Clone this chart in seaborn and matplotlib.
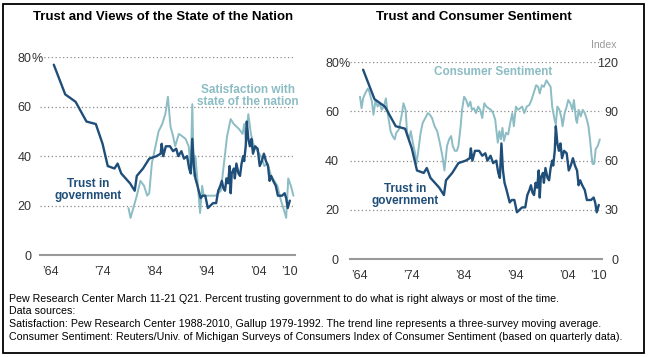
import numpy as np
import pandas as pd
import matplotlib
matplotlib.use("Agg")
import matplotlib.pyplot as plt
import matplotlib.transforms as mtransforms
from matplotlib.patches import Rectangle
import seaborn as sns

sns.set_style("white")
plt.rcParams['font.family'] = ['Liberation Sans', 'DejaVu Sans']

# data
trust_year = [1964.6, 1966.8, 1968.8, 1970.9, 1972.7, 1974.0, 1975.0, 1976.3, 1976.9, 1977.6,
              1979.3, 1980.2, 1980.6, 1981.8, 1983.0, 1984.4, 1985.2, 1985.4, 1985.7, 1986.2,
              1987.0, 1987.6, 1988.2, 1988.6, 1989.2, 1989.7, 1990.3, 1990.7, 1991.0, 1991.3,
              1991.6, 1991.9, 1992.3, 1992.9, 1993.3, 1993.8, 1994.3, 1994.8, 1995.3, 1995.9,
              1996.3, 1996.7, 1997.0, 1997.3, 1997.6, 1997.9, 1998.2, 1998.5, 1998.7, 1998.9,
              1999.3, 1999.5, 1999.8, 2000.2, 2000.5, 2000.8, 2001.1, 2001.3, 2001.6, 2001.8,
              2002.1, 2002.4, 2002.7, 2003.0, 2003.4, 2003.9, 2004.3, 2004.7, 2005.1, 2005.5,
              2005.9, 2006.2, 2006.5, 2006.9, 2007.4, 2007.8, 2008.6, 2009.1, 2009.4, 2009.7,
              2010.1]
trust_pct = [77, 65, 62, 54, 53, 45, 36, 35, 37, 33,
             29, 26, 32, 35, 39, 40, 41, 45, 40, 44,
             44, 42, 43, 40, 42, 39, 40, 35, 33, 47,
             36, 31, 28, 23, 24, 24, 19, 20, 21, 21,
             26, 28, 30, 27, 26, 31, 29, 36, 25, 33,
             35, 31, 37, 33, 32, 37, 40, 38, 44, 54,
             47, 44, 47, 41, 44, 43, 36, 38, 41, 38,
             36, 30, 32, 30, 28, 24, 24, 25, 23, 19,
             22]

sat_year = [1979.0, 1979.4, 1980.6, 1981.3, 1982.0, 1982.6, 1983.0, 1983.5, 1984.2, 1984.8,
            1985.5, 1986.1, 1986.6, 1987.1, 1987.6, 1988.0, 1988.7, 1989.4, 1990.0, 1990.6,
            1991.0, 1991.3, 1991.6, 1991.9, 1992.3, 1992.8, 1993.2, 1993.5, 1994.2, 1994.8,
            1995.8, 1996.8, 1997.4, 1998.0, 1998.7, 1999.3, 2000.3, 2001.0, 2001.3, 2001.6,
            2002.1, 2002.6, 2003.2, 2003.9, 2004.5, 2005.2, 2005.8, 2006.5, 2007.1, 2007.7,
            2008.4, 2009.0, 2009.4, 2009.8, 2010.3, 2010.8]
sat_pct = [19, 15, 24, 30, 28, 24, 25, 37, 44, 50,
           53, 57, 64, 52, 48, 44, 49, 48, 47, 44,
           35, 61, 32, 40, 30, 17, 28, 24, 24, 24,
           24, 26, 37, 48, 55, 53, 51, 49, 53, 47,
           57, 49, 44, 42, 40, 36, 37, 32, 30, 28,
           22, 18, 15, 31, 28, 24]

cs_year = [1964.0, 1964.3, 1964.6, 1965.0, 1965.5, 1965.8, 1966.3, 1966.6, 1967.0, 1967.4,
           1967.8, 1968.2, 1968.6, 1969.0, 1969.4, 1969.9, 1970.3, 1970.7, 1971.0, 1971.5,
           1972.0, 1972.4, 1972.8, 1973.1, 1973.5, 1973.8, 1974.2, 1974.6, 1974.9, 1975.3,
           1975.7, 1976.1, 1976.6, 1977.1, 1977.5, 1977.9, 1978.4, 1978.9, 1979.4, 1979.9,
           1980.3, 1980.8, 1981.2, 1981.6, 1981.9, 1982.3, 1982.7, 1983.0, 1983.4, 1983.7,
           1984.1, 1984.5, 1984.9, 1985.3, 1985.6, 1986.0, 1986.4, 1986.8, 1987.2, 1987.6,
           1988.0, 1988.4, 1988.8, 1989.3, 1989.7, 1990.1, 1990.6, 1990.9, 1991.2, 1991.5,
           1991.8, 1992.2, 1992.6, 1993.0, 1993.4, 1993.7, 1994.1, 1994.5, 1994.9, 1995.3,
           1995.7, 1996.2, 1996.7, 1997.1, 1997.5, 1998.0, 1998.4, 1998.7, 1999.1, 1999.5,
           2000.0, 2000.4, 2000.8, 2001.1, 2001.5, 2001.8, 2002.1, 2002.5, 2002.9, 2003.1,
           2003.5, 2003.9, 2004.2, 2004.6, 2005.0, 2005.3, 2005.7, 2005.9, 2006.2, 2006.6,
           2007.0, 2007.4, 2007.8, 2008.1, 2008.4, 2008.7, 2008.9, 2009.2, 2009.5, 2009.9,
           2010.3]
cs_index = [99, 92, 98, 101, 104, 102, 96, 88, 97, 93,
            95, 91, 93, 98, 88, 78, 75, 73, 77, 79,
            87, 95, 91, 77, 73, 78, 71, 65, 58, 67,
            77, 83, 86, 89, 88, 86, 81, 78, 71, 63,
            54, 69, 73, 75, 69, 66, 66, 69, 80, 91,
            99, 97, 93, 96, 91, 92, 89, 93, 91, 86,
            95, 93, 92, 91, 89, 85, 71, 78, 73, 80,
            72, 77, 76, 83, 89, 81, 93, 91, 92, 93,
            89, 93, 94, 97, 101, 106, 105, 101, 106, 105,
            109, 107, 105, 93, 86, 82, 93, 91, 86, 81,
            89, 93, 97, 95, 91, 97, 85, 83, 91, 87,
            91, 89, 85, 81, 73, 63, 58, 58, 67, 69,
            73]

year_ticks = [1964, 1974, 1984, 1994, 2004, 2010]
year_labels = ["\u201964", "\u201974", "\u201984", "\u201994", "\u201904", "\u201910"]
pct_ticks = [0, 20, 40, 60, 80]
index_ticks = [0, 30, 60, 90, 120]

TRUST = '#1f4e79'
TEAL = '#8cbcc4'
GRID = '#8a8a8a'
TXT = '#333333'

W, H = 649, 357
fig = plt.figure(figsize=(W / 100, H / 100), dpi=100)


def px_axes(x0, x1, ytop, ybot):
    return fig.add_axes([x0 / W, (H - ybot) / H, (x1 - x0) / W, (ybot - ytop) / H])


def style_axes(ax, xlim, pad_left):
    ax.set_xlim(*xlim)
    ax.set_ylim(0, 80)
    ax.set_yticks(pct_ticks)
    ax.set_yticklabels([str(t) for t in pct_ticks])
    ax.set_xticks(year_ticks)
    ax.set_xticklabels(year_labels)
    for s in ['top', 'right', 'left']:
        ax.spines[s].set_visible(False)
    ax.spines['bottom'].set_color('#999999')
    ax.spines['bottom'].set_linewidth(1.5)
    ax.tick_params(axis='y', length=0, pad=pad_left, labelsize=9, labelcolor=TXT)
    ax.tick_params(axis='x', length=3, width=0.8, color='#bbbbbb', pad=5,
                   labelsize=9, labelcolor=TXT)
    for t in pct_ticks[1:]:
        ax.axhline(t, color=GRID, lw=0.9, ls=(0, (1, 2)), zorder=0.5)
    # the % sign hangs after "80"
    off = mtransforms.offset_copy(ax.get_yaxis_transform(), fig=fig, x=-pad_left, y=0, units='points')
    ax.text(0, 80, "%", transform=off, ha='left', va='center_baseline', fontsize=9, color=TXT)
    ax.set_xlabel('')
    ax.set_ylabel('')


# left panel: trust and satisfaction
ax1 = px_axes(40, 295, 57.3, 255)
sns.lineplot(x=sat_year, y=sat_pct, ax=ax1, color=TEAL, lw=1.4, estimator=None, sort=False)
sns.lineplot(x=trust_year, y=trust_pct, ax=ax1, color=TRUST, lw=1.7, estimator=None, sort=False)
style_axes(ax1, (1961.94, 2011.1), 6)
ax1.text(2002.0, 64.2, "Satisfaction with\nstate of the nation", color=TEAL, fontsize=8.5,
         fontweight='bold', ha='center', va='center', linespacing=1.0)
ax1.text(1971.2, 26.5, "Trust in\ngovernment", color=TRUST, fontsize=8.5,
         fontweight='bold', ha='center', va='center', linespacing=1.0)

# right panel: trust and consumer sentiment
ax2 = px_axes(350, 601.7, 62.3, 259)
ax3 = ax2.twinx()
sns.lineplot(x=cs_year, y=cs_index, ax=ax3, color=TEAL, lw=1.4, estimator=None, sort=False)
ax3.set_ylim(0, 120)
ax3.set_yticks(index_ticks)
ax3.set_yticklabels([str(t) for t in index_ticks])
for lbl in ax3.get_yticklabels():
    lbl.set_ha('right')
ax3.tick_params(axis='y', length=0, pad=12, labelsize=9, labelcolor=TXT)
for s in ['top', 'right', 'left', 'bottom']:
    ax3.spines[s].set_visible(False)
ax3.set_ylabel('')
sns.lineplot(x=trust_year, y=trust_pct, ax=ax3, color=TRUST, lw=1.7, estimator=None, sort=False,
             transform=ax2.transData)
style_axes(ax2, (1962.07, 2010.66), 8)
ax3.set_xlim(1962.07, 2010.66)
ax3.text(1989.7, 76 * 1.5, "Consumer Sentiment", color=TEAL, fontsize=8.5,
         fontweight='bold', ha='center', va='center')
ax3.text(1972.7, 26.2 * 1.5, "Trust in\ngovernment", color=TRUST, fontsize=8.5,
         fontweight='bold', ha='center', va='center', linespacing=1.0)

fig.text(617 / W, 1 - 45 / H, "Index", ha='right', va='center', fontsize=7.5, color='#999999')

# titles
fig.text(163.5 / W, 1 - 16.5 / H, "Trust and Views of the State of the Nation",
         ha='center', va='center', fontsize=9.5, fontweight='bold', color='black')
fig.text(473.5 / W, 1 - 16.5 / H, "Trust and Consumer Sentiment",
         ha='center', va='center', fontsize=9.5, fontweight='bold', color='black')

# notes
notes = [
    "Pew Research Center March 11-21 Q21. Percent trusting government to do what is right always or most of the time.",
    "Data sources:",
    "Satisfaction: Pew Research Center 1988-2010, Gallup 1979-1992. The trend line represents a three-survey moving average.",
    "Consumer Sentiment: Reuters/Univ. of Michigan Surveys of Consumers Index of Consumer Sentiment (based on quarterly data).",
]
for i, line in enumerate(notes):
    fig.text(9 / W, 1 - (299 + 12.5 * i) / H, line, ha='left', va='center', fontsize=7.7, color='black')

# frame around the whole graphic
fig.add_artist(Rectangle((3 / W, 4 / H), 641 / W, 349 / H, transform=fig.transFigure,
                         fill=False, edgecolor='black', lw=1.3))

fig.savefig("out.png", dpi=100)
